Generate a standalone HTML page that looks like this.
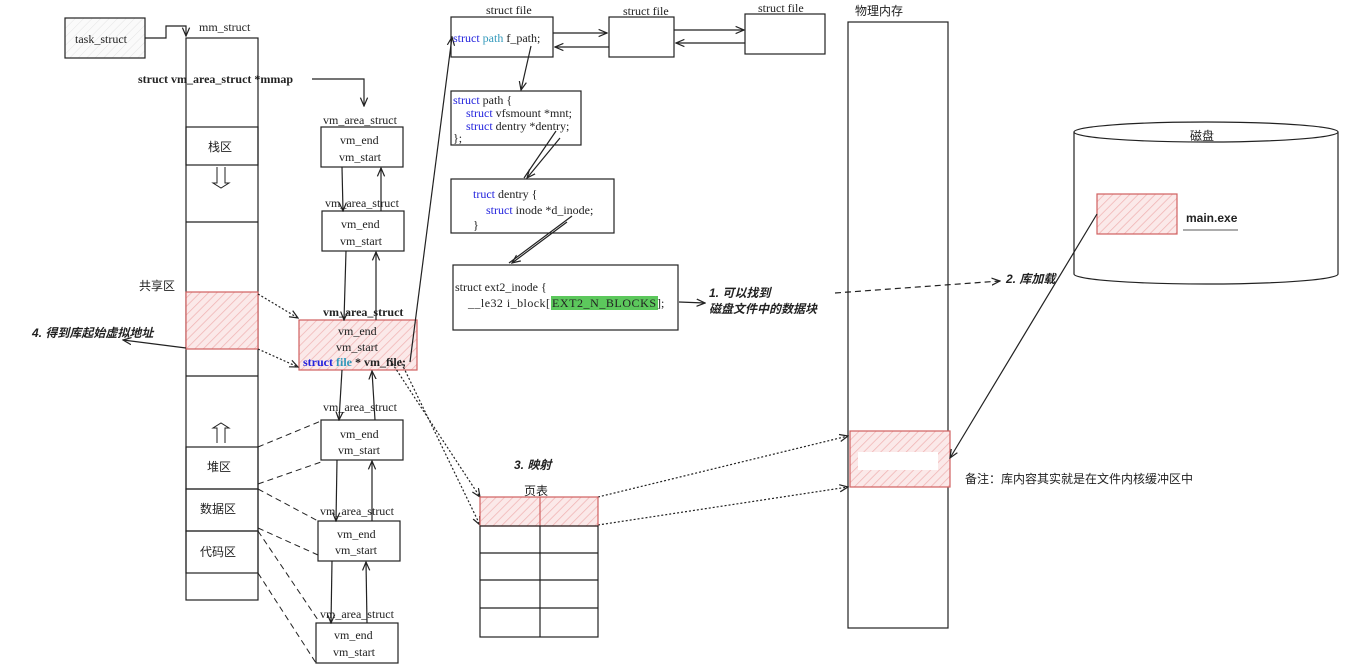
<!DOCTYPE html>
<html><head><meta charset="utf-8"><style>
html,body{margin:0;padding:0;background:#fff;width:1349px;height:670px;overflow:hidden}
svg{display:block}
text{font-family:"Liberation Serif","Noto Serif CJK SC",serif;font-size:12px;fill:#222}
.cn{font-family:"Liberation Sans","Noto Sans CJK SC",sans-serif}
.bi{font-family:"Liberation Sans","Noto Sans CJK SC",sans-serif;font-weight:bold;font-style:italic;font-size:12px}
.k{fill:#2222dd}.t{fill:#3399bb}
</style></head><body>
<svg width="1349" height="670" viewBox="0 0 1349 670" xmlns="http://www.w3.org/2000/svg">
<defs>
<pattern id="h" width="6" height="6" patternUnits="userSpaceOnUse" patternTransform="rotate(45)"><rect width="6" height="6" fill="#fbe9e9"/><line x1="0" y1="0" x2="0" y2="6" stroke="#f0b4b4" stroke-width="1.5"/></pattern>
<pattern id="g" width="6" height="6" patternUnits="userSpaceOnUse" patternTransform="rotate(45)"><rect width="6" height="6" fill="#fafafa"/><line x1="0" y1="0" x2="0" y2="6" stroke="#e4e4e4" stroke-width="1"/></pattern>
<marker id="a" markerWidth="8" markerHeight="8" refX="7" refY="4" orient="auto"><path d="M0,1 L7,4 L0,7" fill="none" stroke="#222" stroke-width="1"/></marker>
</defs>
<g fill="none" stroke="#222" stroke-width="1.2">
<rect x="65" y="18" width="80" height="40" fill="url(#g)"/>
<path d="M145,38 H166 V26 H186 V36" marker-end="url(#a)"/>
<rect x="186" y="38" width="72" height="562" fill="#fff"/>
<rect x="186" y="127" width="72" height="38"/>
<line x1="186" y1="222" x2="258" y2="222"/>
<rect x="186" y="292" width="72" height="57" fill="url(#h)" stroke="#d06060"/>
<line x1="186" y1="376" x2="258" y2="376"/>
<rect x="186" y="447" width="72" height="42"/>
<rect x="186" y="489" width="72" height="42"/>
<rect x="186" y="531" width="72" height="42"/>
<path d="M217,167 V183 H213 L221,188 L229,183 H225 V167" stroke-width="1"/>
<path d="M217,443 V428 H213 L221,423 L229,428 H225 V443" stroke-width="1"/>
<path d="M312,79 H364 V106" marker-end="url(#a)"/>
<rect x="321" y="127" width="82" height="40" fill="#fff"/>
<rect x="322" y="211" width="82" height="40" fill="#fff"/>
<rect x="299" y="320" width="118" height="50" fill="url(#h)" stroke="#d06060"/>
<rect x="321" y="420" width="82" height="40" fill="#fff"/>
<rect x="318" y="521" width="82" height="40" fill="#fff"/>
<rect x="316" y="623" width="82" height="40" fill="#fff"/>
<line x1="342" y1="167" x2="343" y2="211" marker-end="url(#a)"/><line x1="381" y1="211" x2="381" y2="168" marker-end="url(#a)"/>
<line x1="346" y1="251" x2="344" y2="320" marker-end="url(#a)"/><line x1="376" y1="320" x2="376" y2="252" marker-end="url(#a)"/>
<line x1="342" y1="370" x2="339" y2="420" marker-end="url(#a)"/><line x1="375" y1="420" x2="372" y2="371" marker-end="url(#a)"/>
<line x1="337" y1="460" x2="336" y2="521" marker-end="url(#a)"/><line x1="372" y1="521" x2="372" y2="461" marker-end="url(#a)"/>
<line x1="332" y1="561" x2="331" y2="623" marker-end="url(#a)"/><line x1="367" y1="623" x2="366" y2="562" marker-end="url(#a)"/>
<g stroke-dasharray="6,4" stroke-width="1">
<line x1="258" y1="447" x2="321" y2="421"/><line x1="258" y1="484" x2="321" y2="462"/>
<line x1="258" y1="489" x2="318" y2="521"/><line x1="258" y1="528" x2="318" y2="555"/>
<line x1="258" y1="531" x2="318" y2="620"/><line x1="258" y1="573" x2="316" y2="663"/>
</g>
<g stroke-dasharray="2,2" stroke-width="1.2">
<line x1="258" y1="294" x2="298" y2="318" marker-end="url(#a)"/>
<line x1="258" y1="349" x2="298" y2="367" marker-end="url(#a)"/>
<line x1="390" y1="360" x2="480" y2="497" marker-end="url(#a)"/>
<line x1="400" y1="360" x2="480" y2="525" marker-end="url(#a)"/>
<line x1="598" y1="497" x2="848" y2="436" marker-end="url(#a)"/>
<line x1="598" y1="525" x2="848" y2="487" marker-end="url(#a)"/>
</g>
<line x1="186" y1="348" x2="123" y2="340" marker-end="url(#a)"/>
<line x1="410" y1="362" x2="452" y2="37" marker-end="url(#a)"/>
<rect x="451" y="17" width="102" height="40"/>
<rect x="609" y="17" width="65" height="40"/>
<rect x="745" y="14" width="80" height="40"/>
<line x1="553" y1="33" x2="607" y2="33" marker-end="url(#a)"/><line x1="609" y1="47" x2="555" y2="47" marker-end="url(#a)"/>
<line x1="674" y1="30" x2="744" y2="30" marker-end="url(#a)"/><line x1="745" y1="43" x2="676" y2="43" marker-end="url(#a)"/>
<line x1="531" y1="46" x2="521" y2="90" marker-end="url(#a)"/>
<rect x="451" y="91" width="130" height="54"/>
<path d="M556,131 L524,178 M560,138 L527,178" marker-end="url(#a)"/>
<rect x="451" y="179" width="163" height="54"/>
<path d="M572,216 L509,263 M567,222 L512,263" marker-end="url(#a)"/>
<rect x="453" y="265" width="225" height="65"/>
<line x1="679" y1="302" x2="705" y2="303" marker-end="url(#a)"/>
<rect x="848" y="22" width="100" height="606"/>
<rect x="850" y="431" width="100" height="56" fill="url(#h)" stroke="#d06060"/>
<line x1="835" y1="293" x2="1000" y2="281" stroke-dasharray="6,4" marker-end="url(#a)"/>
<path d="M1074,132 V274 A132,10 0 0 0 1338,274 V132"/>
<ellipse cx="1206" cy="132" rx="132" ry="10" fill="#fff"/>
<rect x="1097" y="194" width="80" height="40" fill="url(#h)" stroke="#d06060"/>
<line x1="1097" y1="214" x2="950" y2="458" marker-end="url(#a)"/>
<line x1="1183" y1="230" x2="1238" y2="230" stroke-width="0.8"/>
<rect x="480" y="497" width="118" height="29" fill="url(#h)" stroke="#d06060"/>
<line x1="540" y1="497" x2="540" y2="526" stroke="#d06060"/>
<rect x="480" y="526" width="118" height="111"/>
<line x1="540" y1="526" x2="540" y2="637"/>
<line x1="480" y1="553" x2="598" y2="553"/><line x1="480" y1="580" x2="598" y2="580"/><line x1="480" y1="608" x2="598" y2="608"/>
</g>
<rect x="551" y="296" width="107" height="14" fill="#5cc85c"/>
<rect x="858" y="452" width="80" height="18" fill="#fff"/>
<text x="75" y="43">task_struct</text>
<text x="199" y="31" font-size="11">mm_struct</text>
<text x="138" y="83" font-weight="bold">struct vm_area_struct *mmap</text>
<text x="208" y="151" class="cn">栈区</text>
<text x="139" y="290" class="cn">共享区</text>
<text x="207" y="471" class="cn">堆区</text>
<text x="200" y="513" class="cn">数据区</text>
<text x="200" y="556" class="cn">代码区</text>
<text x="32" y="337" class="bi">4. 得到库起始虚拟地址</text>
<text x="323" y="124" font-size="11">vm_area_struct</text>
<text x="325" y="207" font-size="11">vm_area_struct</text>
<text x="323" y="316" font-weight="bold">vm_area_struct</text>
<text x="323" y="411" font-size="11">vm_area_struct</text>
<text x="320" y="515" font-size="11">vm_area_struct</text>
<text x="320" y="618" font-size="11">vm_area_struct</text>
<text x="340" y="144">vm_end</text><text x="339" y="161">vm_start</text>
<text x="341" y="228">vm_end</text><text x="340" y="245">vm_start</text>
<text x="338" y="335">vm_end</text><text x="336" y="351">vm_start</text>
<text x="303" y="366" font-weight="bold"><tspan class="k">struct</tspan> <tspan class="t">file</tspan> * vm_file;</text>
<text x="340" y="438">vm_end</text><text x="338" y="454">vm_start</text>
<text x="337" y="538">vm_end</text><text x="335" y="554">vm_start</text>
<text x="334" y="639">vm_end</text><text x="333" y="656">vm_start</text>
<text x="486" y="14">struct file</text>
<text x="623" y="15">struct file</text>
<text x="758" y="12">struct file</text>
<text x="453" y="42"><tspan class="k">struct</tspan> <tspan class="t">path</tspan> f_path;</text>
<text x="453" y="104"><tspan class="k">struct</tspan> path {</text>
<text x="466" y="117"><tspan class="k">struct</tspan> vfsmount *mnt;</text>
<text x="466" y="130"><tspan class="k">struct</tspan> dentry *dentry;</text>
<text x="453" y="142">};</text>
<text x="473" y="198"><tspan class="k">truct</tspan> dentry {</text>
<text x="486" y="214"><tspan class="k">struct</tspan> inode *d_inode;</text>
<text x="473" y="229" fill="#3a3">}</text>
<text x="455" y="291">struct ext2_inode {</text>
<text y="307"><tspan x="468" textLength="82">__le32  i_block[</tspan><tspan x="552" textLength="104">EXT2_N_BLOCKS</tspan><tspan x="657">];</tspan></text>
<text x="709" y="297" class="bi">1. 可以找到</text>
<text x="709" y="313" class="bi">磁盘文件中的数据块</text>
<text x="855" y="15" class="cn">物理内存</text>
<text x="1006" y="283" class="bi">2. 库加载</text>
<text x="1190" y="140" class="cn">磁盘</text>
<text x="1186" y="222" class="cn" font-weight="bold" font-size="13">main.exe</text>
<text x="965" y="483" class="cn">备注：库内容其实就是在文件内核缓冲区中</text>
<text x="514" y="469" class="bi">3. 映射</text>
<text x="524" y="495" class="cn">页表</text>
</svg>
</body></html>
